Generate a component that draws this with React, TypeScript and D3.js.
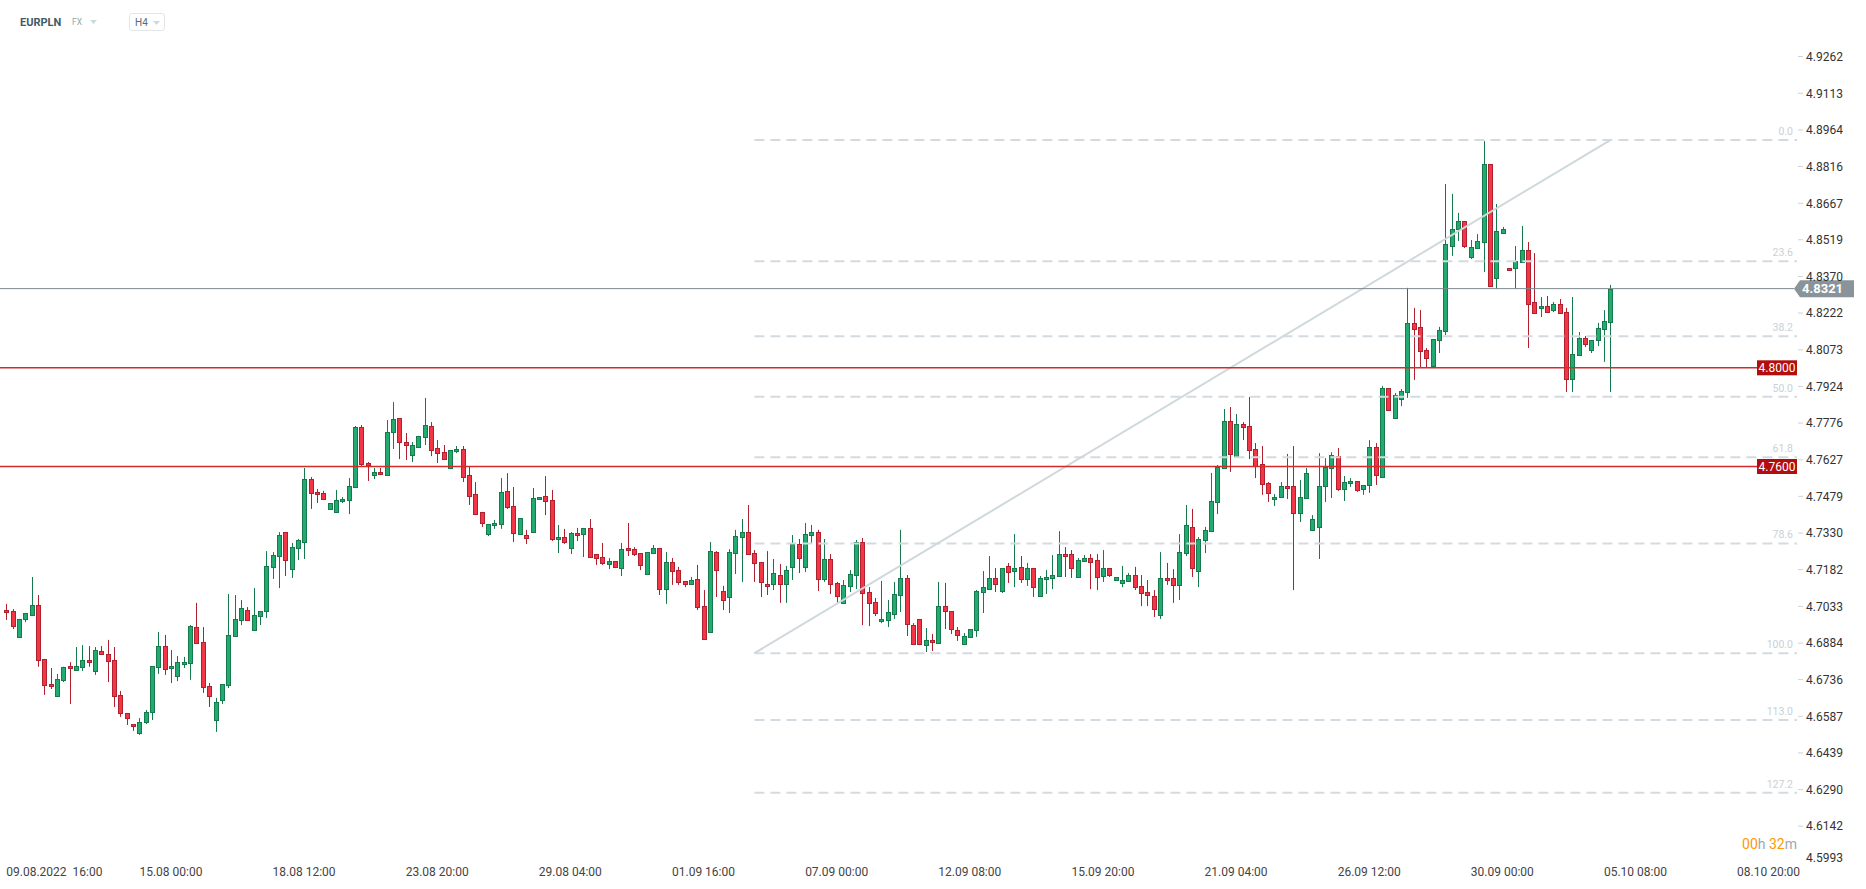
import React, { useEffect } from 'react';
import * as d3 from 'd3';

// ---------- DATA (EURPLN, H4) ----------
const opens = [
  4.7018, 4.7014, 4.6909, 4.6982, 4.6998, 4.7038, 4.6820, 4.6718, 4.6670, 4.6735,
  4.6791, 4.6775, 4.6788, 4.6816, 4.6771, 4.6852, 4.6840, 4.6816, 4.6674, 4.6601,
  4.6556, 4.6520, 4.6564, 4.6605, 4.6788, 4.6872, 4.6783, 4.6751, 4.6799, 4.6803,
  4.6949, 4.6888, 4.6710, 4.6572, 4.6653, 4.6714, 4.6913, 4.6978, 4.7018, 4.6937,
  4.6994, 4.7014, 4.7193, 4.7237, 4.7334, 4.7184, 4.7269, 4.7294, 4.7549, 4.7497,
  4.7493, 4.7428, 4.7416, 4.7460, 4.7464, 4.7517, 4.7760, 4.7614, 4.7565, 4.7577,
  4.7565, 4.7740, 4.7796, 4.7699, 4.7646, 4.7679, 4.7720, 4.7764, 4.7675, 4.7658,
  4.7594, 4.7662, 4.7671, 4.7565, 4.7488, 4.7416, 4.7326, 4.7363, 4.7367, 4.7501,
  4.7440, 4.7326, 4.7322, 4.7334, 4.7468, 4.7480, 4.7464, 4.7306, 4.7314, 4.7269,
  4.7330, 4.7326, 4.7351, 4.7245, 4.7233, 4.7205, 4.7217, 4.7188, 4.7269, 4.7265,
  4.7249, 4.7164, 4.7249, 4.7269, 4.7103, 4.7213, 4.7180, 4.7136, 4.7124, 4.7144,
  4.7034, 4.6929, 4.7253, 4.7095, 4.7071, 4.7249, 4.7314, 4.7334, 4.7249, 4.7213,
  4.7124, 4.7124, 4.7160, 4.7124, 4.7193, 4.7286, 4.7193, 4.7322, 4.7334, 4.7144,
  4.7225, 4.7128, 4.7047, 4.7116, 4.7160, 4.7294, 4.7091, 4.7051, 4.6974, 4.6978,
  4.7002, 4.7079, 4.7148, 4.6957, 4.6982, 4.6876, 4.6897, 4.6884, 4.7034, 4.7014,
  4.6937, 4.6880, 4.6909, 4.6937, 4.7091, 4.7103, 4.7148, 4.7095, 4.7197, 4.7176,
  4.7193, 4.7144, 4.7188, 4.7075, 4.7144, 4.7148, 4.7156, 4.7245, 4.7245, 4.7152,
  4.7217, 4.7229, 4.7221, 4.7156, 4.7188, 4.7140, 4.7128, 4.7136, 4.7160, 4.7116,
  4.7091, 4.7075, 4.6998, 4.7148, 4.7148, 4.7120, 4.7249, 4.7355, 4.7176, 4.7302,
  4.7339, 4.7456, 4.7594, 4.7784, 4.7642, 4.7772, 4.7764, 4.7671, 4.7610, 4.7533,
  4.7468, 4.7476, 4.7521, 4.7521, 4.7412, 4.7472, 4.7343, 4.7355, 4.7521, 4.7594,
  4.7642, 4.7509, 4.7533, 4.7541, 4.7509, 4.7525, 4.7679, 4.7557, 4.7918, 4.7796,
  4.7874, 4.7902, 4.8182, 4.8166, 4.8072, 4.8007, 4.8113, 4.8149, 4.8494, 4.8563,
  4.8595, 4.8449, 4.8486, 4.8510, 4.8826, 4.8364, 4.8546, 4.8405, 4.8405, 4.8429,
  4.8478, 4.8267, 4.8243, 4.8251, 4.8234, 4.8259, 4.8226, 4.7955, 4.8052, 4.8121,
  4.8072, 4.8113, 4.8157, 4.8186,
];
const highs = [
  4.7043, 4.7022, 4.6982, 4.7006, 4.7152, 4.7079, 4.6820, 4.6783, 4.6759, 4.6788,
  4.6807, 4.6868, 4.6876, 4.6872, 4.6868, 4.6872, 4.6897, 4.6868, 4.6690, 4.6601,
  4.6556, 4.6580, 4.6613, 4.6791, 4.6929, 4.6917, 4.6856, 4.6832, 4.6828, 4.6957,
  4.7047, 4.6949, 4.6722, 4.6662, 4.6718, 4.7083, 4.7079, 4.7059, 4.7030, 4.7107,
  4.7014, 4.7257, 4.7253, 4.7334, 4.7334, 4.7290, 4.7306, 4.7594, 4.7557, 4.7509,
  4.7501, 4.7452, 4.7505, 4.7476, 4.7553, 4.7764, 4.7768, 4.7618, 4.7594, 4.7594,
  4.7788, 4.7861, 4.7796, 4.7736, 4.7699, 4.7724, 4.7878, 4.7780, 4.7707, 4.7687,
  4.7667, 4.7683, 4.7683, 4.7598, 4.7537, 4.7416, 4.7367, 4.7383, 4.7553, 4.7573,
  4.7517, 4.7391, 4.7343, 4.7513, 4.7476, 4.7561, 4.7505, 4.7363, 4.7347, 4.7334,
  4.7351, 4.7351, 4.7387, 4.7245, 4.7290, 4.7229, 4.7217, 4.7290, 4.7371, 4.7273,
  4.7249, 4.7253, 4.7282, 4.7269, 4.7253, 4.7229, 4.7193, 4.7136, 4.7152, 4.7201,
  4.7099, 4.7294, 4.7257, 4.7116, 4.7265, 4.7343, 4.7387, 4.7444, 4.7261, 4.7213,
  4.7257, 4.7225, 4.7205, 4.7197, 4.7322, 4.7306, 4.7371, 4.7363, 4.7343, 4.7306,
  4.7245, 4.7132, 4.7140, 4.7180, 4.7302, 4.7310, 4.7111, 4.7067, 4.7136, 4.7059,
  4.7132, 4.7343, 4.7160, 4.6965, 4.6982, 4.6945, 4.6921, 4.7132, 4.7128, 4.7014,
  4.6949, 4.6925, 4.6941, 4.7099, 4.7176, 4.7237, 4.7188, 4.7188, 4.7209, 4.7326,
  4.7237, 4.7209, 4.7188, 4.7156, 4.7180, 4.7241, 4.7338, 4.7273, 4.7261, 4.7229,
  4.7241, 4.7245, 4.7245, 4.7261, 4.7188, 4.7152, 4.7197, 4.7168, 4.7193, 4.7160,
  4.7140, 4.7099, 4.7253, 4.7209, 4.7184, 4.7326, 4.7444, 4.7428, 4.7314, 4.7355,
  4.7574, 4.7606, 4.7833, 4.7841, 4.7813, 4.7780, 4.7882, 4.7695, 4.7683, 4.7537,
  4.7488, 4.7537, 4.7651, 4.7683, 4.7545, 4.7594, 4.7403, 4.7654, 4.7634, 4.7658,
  4.7675, 4.7561, 4.7553, 4.7541, 4.7525, 4.7707, 4.7695, 4.7926, 4.7918, 4.7898,
  4.7914, 4.8324, 4.8243, 4.8234, 4.8080, 4.8117, 4.8166, 4.8745, 4.8705, 4.8628,
  4.8595, 4.8518, 4.8542, 4.8919, 4.8826, 4.8664, 4.8571, 4.8405, 4.8494, 4.8575,
  4.8510, 4.8465, 4.8287, 4.8291, 4.8267, 4.8279, 4.8243, 4.8287, 4.8145, 4.8129,
  4.8113, 4.8182, 4.8234, 4.8336,
];
const lows = [
  4.6978, 4.6941, 4.6909, 4.6969, 4.6994, 4.6788, 4.6674, 4.6698, 4.6670, 4.6726,
  4.6637, 4.6771, 4.6771, 4.6788, 4.6755, 4.6840, 4.6726, 4.6625, 4.6585, 4.6552,
  4.6528, 4.6512, 4.6556, 4.6572, 4.6759, 4.6755, 4.6722, 4.6730, 4.6783, 4.6735,
  4.6884, 4.6682, 4.6625, 4.6524, 4.6637, 4.6702, 4.6913, 4.6957, 4.6978, 4.6937,
  4.6957, 4.6986, 4.7144, 4.7107, 4.7156, 4.7148, 4.7221, 4.7225, 4.7428, 4.7452,
  4.7468, 4.7428, 4.7416, 4.7452, 4.7407, 4.7517, 4.7598, 4.7541, 4.7549, 4.7565,
  4.7565, 4.7671, 4.7630, 4.7626, 4.7618, 4.7675, 4.7687, 4.7642, 4.7614, 4.7626,
  4.7590, 4.7654, 4.7537, 4.7444, 4.7403, 4.7355, 4.7318, 4.7347, 4.7347, 4.7428,
  4.7294, 4.7322, 4.7286, 4.7330, 4.7464, 4.7403, 4.7298, 4.7249, 4.7286, 4.7245,
  4.7298, 4.7233, 4.7233, 4.7201, 4.7201, 4.7184, 4.7188, 4.7156, 4.7237, 4.7237,
  4.7180, 4.7160, 4.7245, 4.7079, 4.7043, 4.7120, 4.7120, 4.7111, 4.7120, 4.7018,
  4.6901, 4.6929, 4.7071, 4.7018, 4.7006, 4.7164, 4.7132, 4.7245, 4.7132, 4.7071,
  4.7079, 4.7099, 4.7047, 4.7047, 4.7140, 4.7168, 4.7172, 4.7286, 4.7095, 4.7132,
  4.7083, 4.7047, 4.7047, 4.7091, 4.7103, 4.6957, 4.6953, 4.6994, 4.6965, 4.6949,
  4.6982, 4.7010, 4.6913, 4.6880, 4.6876, 4.6848, 4.6852, 4.6884, 4.6941, 4.6921,
  4.6893, 4.6880, 4.6909, 4.6909, 4.7006, 4.7103, 4.7091, 4.7087, 4.7128, 4.7111,
  4.7128, 4.7116, 4.7071, 4.7075, 4.7083, 4.7103, 4.7156, 4.7152, 4.7148, 4.7152,
  4.7217, 4.7103, 4.7099, 4.7132, 4.7152, 4.7140, 4.7111, 4.7136, 4.7099, 4.7034,
  4.7034, 4.6990, 4.6982, 4.7120, 4.7047, 4.7059, 4.7237, 4.7152, 4.7111, 4.7249,
  4.7334, 4.7407, 4.7590, 4.7578, 4.7642, 4.7707, 4.7630, 4.7553, 4.7485, 4.7456,
  4.7440, 4.7476, 4.7468, 4.7099, 4.7375, 4.7468, 4.7343, 4.7225, 4.7456, 4.7472,
  4.7501, 4.7460, 4.7517, 4.7497, 4.7485, 4.7493, 4.7525, 4.7553, 4.7829, 4.7796,
  4.7845, 4.7878, 4.7951, 4.7999, 4.8003, 4.7999, 4.8060, 4.8133, 4.8454, 4.8514,
  4.8486, 4.8441, 4.8482, 4.8388, 4.8328, 4.8320, 4.8546, 4.8396, 4.8320, 4.8429,
  4.8080, 4.8222, 4.8206, 4.8226, 4.8226, 4.8218, 4.7902, 4.7902, 4.8052, 4.8084,
  4.8060, 4.8088, 4.8024, 4.7902,
];
const closes = [
  4.7010, 4.6953, 4.6982, 4.7006, 4.7038, 4.6816, 4.6714, 4.6710, 4.6739, 4.6788,
  4.6783, 4.6791, 4.6816, 4.6807, 4.6856, 4.6840, 4.6811, 4.6670, 4.6601, 4.6580,
  4.6548, 4.6564, 4.6605, 4.6791, 4.6872, 4.6779, 4.6791, 4.6807, 4.6807, 4.6953,
  4.6884, 4.6706, 4.6670, 4.6645, 4.6718, 4.6917, 4.6982, 4.7026, 4.6978, 4.6998,
  4.7014, 4.7197, 4.7241, 4.7322, 4.7221, 4.7273, 4.7302, 4.7549, 4.7493, 4.7488,
  4.7468, 4.7452, 4.7464, 4.7468, 4.7521, 4.7760, 4.7610, 4.7606, 4.7577, 4.7569,
  4.7740, 4.7792, 4.7699, 4.7687, 4.7687, 4.7724, 4.7768, 4.7667, 4.7654, 4.7630,
  4.7667, 4.7671, 4.7557, 4.7480, 4.7407, 4.7371, 4.7367, 4.7371, 4.7497, 4.7436,
  4.7330, 4.7391, 4.7310, 4.7472, 4.7476, 4.7460, 4.7306, 4.7314, 4.7294, 4.7330,
  4.7322, 4.7351, 4.7233, 4.7229, 4.7209, 4.7217, 4.7193, 4.7265, 4.7261, 4.7245,
  4.7201, 4.7253, 4.7269, 4.7103, 4.7213, 4.7176, 4.7132, 4.7124, 4.7140, 4.7030,
  4.6901, 4.7257, 4.7180, 4.7059, 4.7253, 4.7318, 4.7334, 4.7245, 4.7209, 4.7132,
  4.7116, 4.7168, 4.7124, 4.7180, 4.7286, 4.7229, 4.7326, 4.7334, 4.7144, 4.7225,
  4.7124, 4.7075, 4.7120, 4.7164, 4.7294, 4.7087, 4.7047, 4.7006, 4.6982, 4.7010,
  4.7083, 4.7148, 4.6961, 4.6880, 4.6880, 4.6897, 4.6888, 4.7034, 4.7014, 4.6941,
  4.6917, 4.6913, 4.6941, 4.7095, 4.7111, 4.7148, 4.7124, 4.7188, 4.7172, 4.7188,
  4.7144, 4.7188, 4.7111, 4.7148, 4.7152, 4.7160, 4.7245, 4.7237, 4.7188, 4.7221,
  4.7229, 4.7213, 4.7152, 4.7188, 4.7160, 4.7152, 4.7140, 4.7160, 4.7111, 4.7087,
  4.7079, 4.7022, 4.7148, 4.7140, 4.7120, 4.7253, 4.7363, 4.7188, 4.7306, 4.7343,
  4.7460, 4.7598, 4.7784, 4.7651, 4.7772, 4.7760, 4.7667, 4.7602, 4.7529, 4.7493,
  4.7476, 4.7521, 4.7513, 4.7412, 4.7476, 4.7573, 4.7387, 4.7521, 4.7598, 4.7646,
  4.7509, 4.7537, 4.7541, 4.7505, 4.7525, 4.7679, 4.7565, 4.7918, 4.7829, 4.7890,
  4.7906, 4.8182, 4.8157, 4.8068, 4.8040, 4.8117, 4.8153, 4.8502, 4.8563, 4.8595,
  4.8494, 4.8490, 4.8514, 4.8826, 4.8332, 4.8555, 4.8563, 4.8396, 4.8433, 4.8478,
  4.8259, 4.8222, 4.8251, 4.8226, 4.8259, 4.8222, 4.7955, 4.8056, 4.8121, 4.8097,
  4.8113, 4.8161, 4.8190, 4.8321,
];

const timeLabels = [
  '09.08.2022  16:00', '15.08 00:00', '18.08 12:00', '23.08 20:00', '29.08 04:00',
  '01.09 16:00', '07.09 00:00', '12.09 08:00', '15.09 20:00', '21.09 04:00',
  '26.09 12:00', '30.09 00:00', '05.10 08:00', '08.10 20:00',
];
const barsPerLabel = 21;

const priceTicks = [
  '4.9262', '4.9113', '4.8964', '4.8816', '4.8667', '4.8519', '4.8370', '4.8222',
  '4.8073', '4.7924', '4.7776', '4.7627', '4.7479', '4.7330', '4.7182', '4.7033',
  '4.6884', '4.6736', '4.6587', '4.6439', '4.6290', '4.6142', '4.5993',
];

const fibLevels = [0, 23.6, 38.2, 50.0, 61.8, 78.6, 100.0, 113.0, 127.2];
const fibHighPrice = 4.8923;
const fibLowPrice = 4.6843;
const fibStartBar = 118;
const fibEndBar = 253;

const levelLines = [4.8, 4.76];
const lastPrice = 4.8321;

// ---------- LAYOUT ----------
const W = 1866;
const H = 889;
const plotRight = 1797;

const FONT = 'Roboto, "Noto Sans", sans-serif';

export default function App() {
  useEffect(() => {
    document.body.style.margin = '0';
    document.body.style.overflow = 'hidden';
  }, []);

  const n = closes.length;
  const x = d3.scaleLinear().domain([0, n - 1]).range([6.3, 1610.3]);
  const y = d3.scaleLinear().domain([4.5993, 4.9262]).range([862.9, 56.5]);

  const green = '#22ab70';
  const greenEdge = '#167a4c';
  const red = '#f23645';
  const redEdge = '#b0202e';

  const candles = d3.range(n).map((i) => {
    const o = opens[i], c = closes[i], h = highs[i], l = lows[i];
    const up = c >= o;
    const cx = Math.round(x(i));
    const top = Math.round(y(Math.max(o, c)));
    const bot = Math.round(y(Math.min(o, c)));
    const bh = Math.max(1, bot - top);
    return (
      <g key={i}>
        <line
          x1={cx + 0.5} x2={cx + 0.5}
          y1={y(h)} y2={y(l)}
          stroke={up ? greenEdge : redEdge}
          strokeWidth={1}
        />
        <rect
          x={cx - 1.5} y={top + 0.5}
          width={4} height={bh}
          fill={up ? green : red}
          stroke={up ? greenEdge : redEdge}
          strokeWidth={1}
        />
      </g>
    );
  });

  const fibRange = fibHighPrice - fibLowPrice;
  const fibX1 = x(fibStartBar);

  const lastY = y(lastPrice);

  return (
    <svg
      width={W}
      height={H}
      style={{ position: 'absolute', left: 0, top: 0, display: 'block', background: '#fff' }}
      fontFamily={FONT}
    >
      {/* header */}
      <text x={20} y={26} fontSize={11} fontWeight={700} fill="#455a64">EURPLN</text>
      <text x={72} y={25} fontSize={8.5} fill="#90a4ae">FX</text>
      <path d="M90,20 L97,20 L93.5,24 Z" fill="#cfd8dc" />
      <rect x={129.5} y={13.5} width={35} height={17} rx={2.5} fill="#fff" stroke="#e3e7ea" />
      <text x={135} y={26} fontSize={10} fill="#546e7a">H4</text>
      <path d="M153,21 L160,21 L156.5,25 Z" fill="#cfd8dc" />

      {/* candles */}
      <g>{candles}</g>

      {/* fibonacci levels */}
      {fibLevels.map((lv) => {
        const p = fibHighPrice - (fibRange * lv) / 100;
        const yy = y(p);
        return (
          <g key={lv}>
            <line
              x1={fibX1} x2={plotRight} y1={yy} y2={yy}
              stroke="#d3dbe0" strokeWidth={2} strokeDasharray="10,6"
            />
            <text x={plotRight - 4} y={yy - 5} textAnchor="end" fontSize={10.5} fill="#c9d1d6">
              {lv.toFixed(1)}
            </text>
          </g>
        );
      })}
      <line
        x1={fibX1} y1={y(fibLowPrice)} x2={x(fibEndBar)} y2={y(fibHighPrice)}
        stroke="#cfd8dc" strokeWidth={2}
      />

      {/* horizontal level lines */}
      {levelLines.map((p) => {
        const yy = y(p);
        return (
          <g key={p}>
            <line x1={0} x2={1757} y1={yy} y2={yy} stroke="#d42a2a" strokeWidth={1.4} />
            <rect x={1757} y={yy - 7.5} width={40} height={15} fill="#b30d0d" />
            <text x={1777} y={yy + 4.2} textAnchor="middle" fontSize={12} fill="#fff">
              {p.toFixed(4)}
            </text>
          </g>
        );
      })}

      {/* last price line */}
      <line x1={0} x2={1794} y1={lastY} y2={lastY} stroke="#7b888e" strokeWidth={1} />
      <path
        d={`M1794,${lastY} L1800,${lastY - 8.5} L1854,${lastY - 8.5} L1854,${lastY + 8.5} L1800,${lastY + 8.5} Z`}
        fill="#88949a"
      />
      <text x={1802} y={lastY + 4.6} fontSize={13} fontWeight={700} fill="#fff">
        {lastPrice.toFixed(4)}
      </text>

      {/* price axis */}
      {priceTicks.map((t) => {
        const yy = y(+t);
        const ly = Math.min(yy, 858);
        return (
          <g key={t}>
            {yy < 855 && (
              <line x1={1798} x2={1803} y1={yy} y2={yy} stroke="#cfd4d8" strokeWidth={1} />
            )}
            <text x={1806} y={ly + 4.3} fontSize={12} fill="#333">{t}</text>
          </g>
        );
      })}

      {/* time axis */}
      {timeLabels.map((t, k) => (
        <text
          key={t}
          x={x(k * barsPerLabel)}
          y={876}
          fontSize={12}
          fill="#444"
          style={{ whiteSpace: 'pre' }}
        >
          {t}
        </text>
      ))}

      {/* countdown */}
      <text x={1797} y={849} textAnchor="end" fontSize={14}>
        <tspan fill="#ff9800">00</tspan>
        <tspan fill="#a0a8ad">h </tspan>
        <tspan fill="#ff9800">32</tspan>
        <tspan fill="#a0a8ad">m</tspan>
      </text>
    </svg>
  );
}
